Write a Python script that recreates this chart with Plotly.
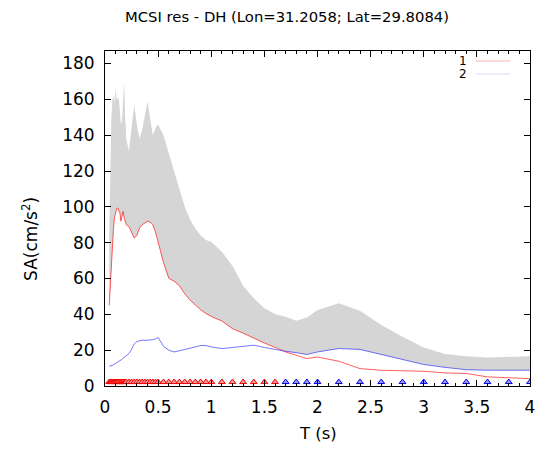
import plotly.graph_objects as go

# ---------------- data ----------------
T = [0.04, 0.05, 0.06, 0.07, 0.08, 0.09, 0.10, 0.11, 0.12, 0.13, 0.14, 0.15, 0.16, 0.17,
     0.18, 0.19, 0.20, 0.225, 0.25, 0.275, 0.30, 0.325, 0.35, 0.375, 0.40, 0.425, 0.45,
     0.475, 0.50, 0.55, 0.60, 0.65, 0.70, 0.75, 0.80, 0.85, 0.90, 0.95, 1.0,
     1.1, 1.2, 1.3, 1.4, 1.5, 1.6, 1.7, 1.8, 1.9, 2.0,
     2.2, 2.4, 2.6, 2.8, 3.0, 3.2, 3.4, 3.6, 3.8, 4.0]

upper = [85, 120, 150, 160, 162, 158, 166, 160, 160, 161, 152, 146, 148, 160,
         170, 150, 138, 131, 145, 157, 146, 138, 143, 151, 159, 149, 140,
         144, 146, 140, 130, 120, 109, 100, 93, 88, 84, 81.5, 80.5,
         75, 67, 56, 49, 43.4, 40.2, 38.7, 36.4, 38.3, 42.4,
         46.2, 42, 34, 27.5, 21.5, 17.8, 16.6, 15.9, 16.2, 16.6]

series1 = [45, 58, 70, 80, 88, 94, 97, 99, 99.4, 98, 96.6, 92, 95, 97.5,
           94, 91.3, 90, 89, 85.4, 82.6, 84, 88.2, 90, 91, 92, 91.5, 90,
           86, 80, 69, 60.2, 58.5, 56, 51.5, 48, 45, 42.5, 40.5, 38.8,
           36.3, 32, 29.5, 26.7, 24, 21.6, 19.0, 17.2, 15.3, 16.2,
           13.8, 9.7, 8.8, 8.5, 8.2, 7.3, 7.0, 5.1, 4.6, 4.1]

series2 = [11, 11.1, 11.3, 11.5, 11.8, 12.2, 12.6, 13, 13.2, 13.4, 13.8, 14.3, 14.9, 15.5,
           16, 16.6, 17, 18.1, 20.5, 23.5, 24.8, 25.2, 25.6, 25.5, 25.6, 25.6, 25.8,
           26.3, 27.1, 22.2, 20, 19, 19.6, 20.6, 21.2, 21.8, 22.6, 22.6, 21.8,
           20.9, 21.5, 22.2, 22.8, 21.5, 20.3, 19.4, 18.6, 17.6, 19,
           20.9, 20.4, 17.6, 14.4, 12, 10.4, 9.1, 8.8, 8.8, 8.8]

MARKER_SA = 2.2

x_ticks = [0, 0.5, 1, 1.5, 2, 2.5, 3, 3.5, 4]
x_tick_labels = ["0", "0.5", "1", "1.5", "2", "2.5", "3", "3.5", "4"]
y_ticks = [0, 20, 40, 60, 80, 100, 120, 140, 160, 180]
y_tick_labels = ["0", "20", "40", "60", "80", "100", "120", "140", "160", "180"]

TITLE = "MCSI res - DH (Lon=31.2058; Lat=29.8084)"

# lower bound of band = larger of the two series
lower = [max(a, b) for a, b in zip(series1, series2)]

# ---------------- layout geometry (page pixels; the page body has an 8px margin) ----------------
OFF = 8
W, H = 549 - 2 * OFF, 451 - 2 * OFF          # figure size
PLOT_L, PLOT_R, PLOT_T, PLOT_B = 105, 535, 51, 386   # plot frame in page pixels
L = PLOT_L - OFF
TOP = PLOT_T - OFF
R = W - (PLOT_R - OFF)
B = H - (PLOT_B - OFF)
PW, PH = PLOT_R - PLOT_L, PLOT_B - PLOT_T


def px(x):
    return (x - PLOT_L) / PW


def py(y):
    return (PLOT_B - y) / PH


FONT = "DejaVu Sans"

fig = go.Figure()

# gray band
fig.add_trace(go.Scatter(x=T, y=lower, mode="lines", line=dict(width=0, color="rgba(0,0,0,0)"),
                         showlegend=False, hoverinfo="skip"))
fig.add_trace(go.Scatter(x=T, y=upper, mode="lines", line=dict(width=0, color="rgba(0,0,0,0)"),
                         fill="tonexty", fillcolor="rgb(213,213,213)", showlegend=False,
                         hoverinfo="skip"))

# series lines
fig.add_trace(go.Scatter(x=T, y=series1, mode="lines", name="1",
                         line=dict(color="rgba(255,0,0,0.7)", width=0.9), showlegend=False))
fig.add_trace(go.Scatter(x=T, y=series2, mode="lines", name="2",
                         line=dict(color="rgba(0,0,255,0.6)", width=0.9), showlegend=False))

# markers showing the controlling series
t_red = [t for t, a, b in zip(T, series1, series2) if a >= b]
t_blue = [t for t, a, b in zip(T, series1, series2) if a < b]
fig.add_trace(go.Scatter(x=t_red, y=[MARKER_SA] * len(t_red), mode="markers", showlegend=False,
                         marker=dict(symbol="triangle-up", size=6, color="rgb(255,150,150)",
                                     line=dict(color="rgb(240,0,0)", width=1))))
fig.add_trace(go.Scatter(x=t_blue, y=[MARKER_SA] * len(t_blue), mode="markers", showlegend=False,
                         marker=dict(symbol="triangle-up", size=6, color="rgb(150,150,255)",
                                     line=dict(color="rgb(0,0,230)", width=1))))

axis_common = dict(showline=True, linecolor="black", linewidth=1, mirror="allticks",
                   ticks="inside", tickcolor="black", ticklen=6, tickwidth=1,
                   showgrid=False, zeroline=False,
                   tickfont=dict(family=FONT, size=17, color="black"))

fig.update_xaxes(range=[0, 4], tickmode="array", tickvals=x_ticks, ticktext=x_tick_labels,
                 minor=dict(dtick=0.1, ticks="inside", ticklen=3, tickcolor="black", showgrid=False),
                 ticklabelstandoff=6, **axis_common)
fig.update_yaxes(range=[0, 187], tickmode="array", tickvals=y_ticks, ticktext=y_tick_labels,
                 ticklabelstandoff=6, **axis_common)

annotations = [
    dict(text=TITLE, x=px(289), y=py(16.5), xref="paper", yref="paper", showarrow=False,
         xanchor="center", yanchor="middle", borderpad=0,
         font=dict(family=FONT, size=14.8, color="black")),
    dict(text="SA(cm/s<sup>2</sup>)", x=px(29), y=py(239), xref="paper", yref="paper",
         showarrow=False, textangle=-90, xanchor="center", yanchor="middle",
         font=dict(family=FONT, size=17, color="black")),
    dict(text="T (s)", x=px(320), y=py(433.5), xref="paper", yref="paper", showarrow=False,
         xanchor="center", yanchor="middle", borderpad=0,
         font=dict(family=FONT, size=16.5, color="black")),
    dict(text="1", x=px(473), y=py(61), xref="paper", yref="paper", showarrow=False,
         xanchor="right", yanchor="middle", font=dict(family=FONT, size=12, color="black")),
    dict(text="2", x=px(473), y=py(74), xref="paper", yref="paper", showarrow=False,
         xanchor="right", yanchor="middle", font=dict(family=FONT, size=12, color="black")),
]

shapes = [
    dict(type="line", xref="paper", yref="paper", x0=px(480), x1=px(515), y0=py(61), y1=py(61),
         line=dict(color="rgba(255,0,0,0.3)", width=1)),
    dict(type="line", xref="paper", yref="paper", x0=px(480), x1=px(515), y0=py(74), y1=py(74),
         line=dict(color="rgba(0,0,255,0.15)", width=1)),
]

fig.update_layout(width=W, height=H, margin=dict(l=L, r=R, t=TOP, b=B, pad=0),
                  paper_bgcolor="white", plot_bgcolor="white",
                  annotations=annotations, shapes=shapes, showlegend=False)

fig.write_html("out.html")
